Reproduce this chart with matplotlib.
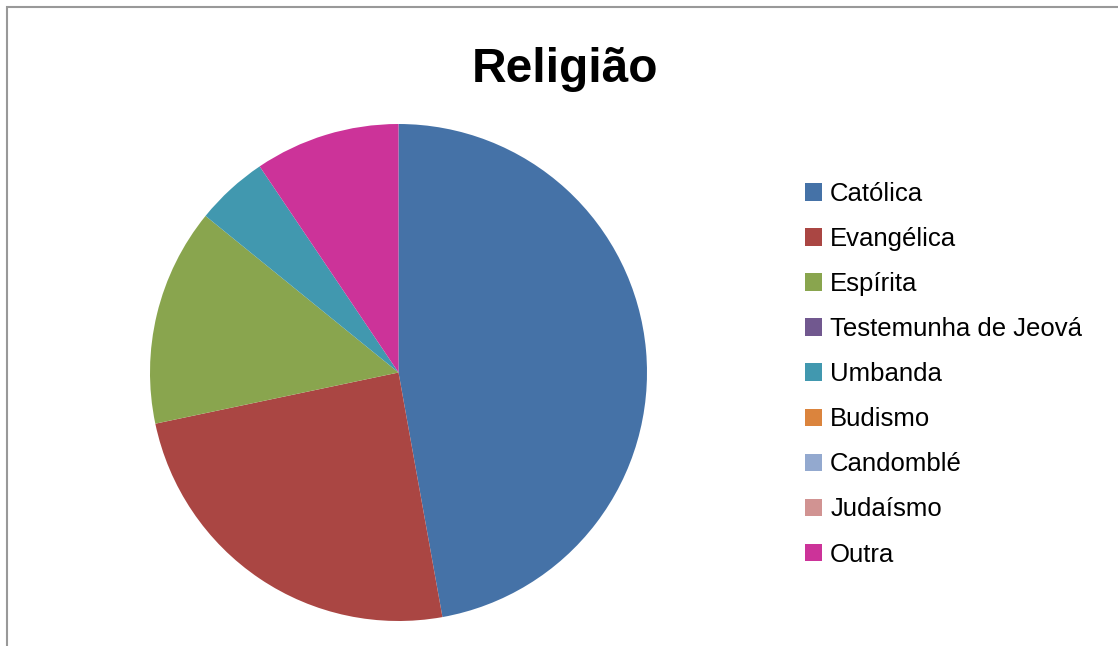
import matplotlib.pyplot as plt
from matplotlib.patches import Patch, Rectangle

plt.rcParams['font.family'] = ['Liberation Sans', 'DejaVu Sans']

religioes = ["Católica", "Evangélica", "Espírita", "Testemunha de Jeová",
             "Umbanda", "Budismo", "Candomblé", "Judaísmo", "Outra"]
contagens = [50, 26, 15, 0, 5, 0, 0, 0, 10]
cores = ["#4572A7", "#AA4643", "#89A54E", "#71588F", "#4198AF",
         "#DB843D", "#93A9CF", "#D19392", "#CC3399"]

W, H = 1118, 646
fig = plt.figure(figsize=(W / 100, H / 100), dpi=100)

# moldura cinza do gráfico (cortada à direita e embaixo)
fig.patches.append(Rectangle((7 / W, -0.05), 1.1, 1 - 6.5 / H + 0.05,
                             transform=fig.transFigure, fill=False,
                             edgecolor="#999999", linewidth=1.5))

ax = fig.add_axes([150 / W, 25 / H, 497 / W, 497 / H])
ax.pie(contagens, colors=cores, startangle=90, counterclock=False,
       radius=1, wedgeprops=dict(linewidth=0))
ax.set_xlim(-1, 1)
ax.set_ylim(-1, 1)
ax.set_aspect("equal")
ax.axis("off")

fig.text(565 / W, 1 - 69 / H, "Religião", ha="center", va="center",
         fontsize=34.5, fontweight="bold")

handles = [Patch(facecolor=c, edgecolor="none") for c in cores]
leg = fig.legend(handles, religioes, loc="upper left",
                 bbox_to_anchor=(805 / W, 1 - 182 / H),
                 fontsize=18.5, frameon=False,
                 handlelength=0.68, handleheight=0.68, handletextpad=0.3,
                 labelspacing=0.82, borderpad=0, borderaxespad=0)

fig.savefig("out.png", dpi=100)
